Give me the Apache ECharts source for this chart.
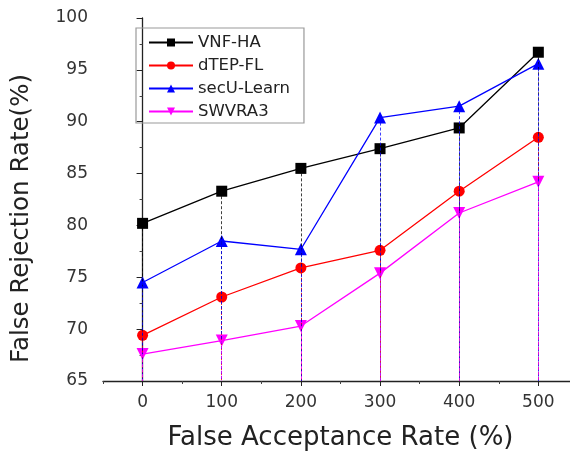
<!DOCTYPE html>
<html>
<head>
<meta charset="utf-8">
<script src="https://cdn.jsdelivr.net/npm/echarts@6/dist/echarts.min.js"></script>
<style>
  html, body { margin: 0; padding: 0; background: #fff; }
  #chart { width: 570px; height: 456px; }
</style>
</head>
<body>
<div id="chart"></div>
<script>
// False acceptance rate steps (x) and false rejection rate per method (y, %)
var farValues = [0, 100, 200, 300, 400, 500];
var vnfHA = [80.2, 83.3, 85.5, 87.4, 89.4, 96.7];
var dtepFL = [69.4, 73.1, 75.9, 77.6, 83.3, 88.5];
var secULearn = [74.5, 78.5, 77.7, 90.4, 91.5, 95.6];
var swvra3 = [67.6, 68.9, 70.3, 75.4, 81.2, 84.2];
var xTickLabels = [0, 100, 200, 300, 400, 500];
var xMinorTicks = [-50, 50, 150, 250, 350, 450];
var yMin = 65, yMax = 100;

var FONT = '"DejaVu Sans", Verdana, sans-serif';

function pairs(vals) {
  return farValues.map(function (x, i) { return [x, vals[i]]; });
}
// vertical dashed drop lines from each point to the x axis
function dropLines(vals) {
  return farValues.map(function (x, i) {
    return [{ coord: [x, vals[i]] }, { coord: [x, yMin] }];
  });
}

function makeSeries(name, vals, color, symbol, size, rotate) {
  return {
    name: name,
    type: 'line',
    data: pairs(vals),
    symbol: symbol,
    symbolSize: size,
    symbolRotate: rotate || 0,
    itemStyle: { color: color },
    lineStyle: { color: color, width: 1.3 },
    markLine: {
      silent: true,
      symbol: ['none', 'none'],
      label: { show: false },
      lineStyle: { color: color, type: [3, 2], width: 1, opacity: 0.75 },
      data: dropLines(vals)
    },
    z: 3
  };
}

var chart = echarts.init(document.getElementById('chart'));
chart.setOption({
  animation: false,
  backgroundColor: '#fff',
  grid: { left: 103, top: 18, right: 0, bottom: 75, containLabel: false },
  legend: {
    orient: 'vertical',
    left: 136,
    top: 28,
    padding: [6, 14, 3, 12],
    itemGap: 6,
    itemWidth: 44,
    itemHeight: 10,
    borderColor: '#9a9a9a',
    borderWidth: 1.2,
    textStyle: { fontFamily: FONT, fontSize: 16.5, lineHeight: 16, color: '#222' },
    data: ['VNF-HA', 'dTEP-FL', 'secU-Learn', 'SWVRA3']
  },
  xAxis: [{
    type: 'value',
    min: -50,
    max: 540,
    name: 'False Acceptance Rate (%)',
    nameLocation: 'middle',
    nameGap: 44,
    nameTextStyle: { fontFamily: FONT, fontSize: 26, color: '#222', padding: [0, 0, 0, 8] },
    axisLine: { show: true, lineStyle: { color: '#222', width: 1.3 } },
    axisTick: { show: true, length: 5, inside: false, customValues: xTickLabels, lineStyle: { color: '#222' } },
    axisLabel: { fontFamily: FONT, fontSize: 17, color: '#333', margin: 13, customValues: xTickLabels },
    splitLine: { show: false }
  }, {
    // minor tick marks along the bottom axis
    type: 'value',
    position: 'bottom',
    min: -50,
    max: 540,
    axisLine: { show: false },
    axisTick: { show: true, length: 3, customValues: xMinorTicks, lineStyle: { color: '#444' } },
    axisLabel: { show: false, customValues: xMinorTicks },
    splitLine: { show: false }
  }],
  yAxis: {
    type: 'value',
    min: yMin,
    max: yMax,
    interval: 5,
    name: 'False Rejection Rate(%)',
    nameLocation: 'middle',
    nameGap: 69,
    nameTextStyle: { fontFamily: FONT, fontSize: 24.5, color: '#222', padding: [0, 38, 0, 0] },
    axisLine: { show: true, lineStyle: { color: '#222', width: 1.3 } },
    axisTick: { show: true, length: 6, lineStyle: { color: '#222' } },
    minorTick: { show: true, splitNumber: 2, length: 3, lineStyle: { color: '#444' } },
    axisLabel: { fontFamily: FONT, fontSize: 17, color: '#333', margin: 15 },
    splitLine: { show: false }
  },
  series: [
    makeSeries('VNF-HA', vnfHA, '#000000', 'rect', 11),
    makeSeries('dTEP-FL', dtepFL, '#ff0000', 'circle', 11),
    makeSeries('secU-Learn', secULearn, '#0000ff', 'triangle', 12),
    makeSeries('SWVRA3', swvra3, '#ff00ff', 'triangle', 12, 180)
  ]
});
</script>
</body>
</html>
